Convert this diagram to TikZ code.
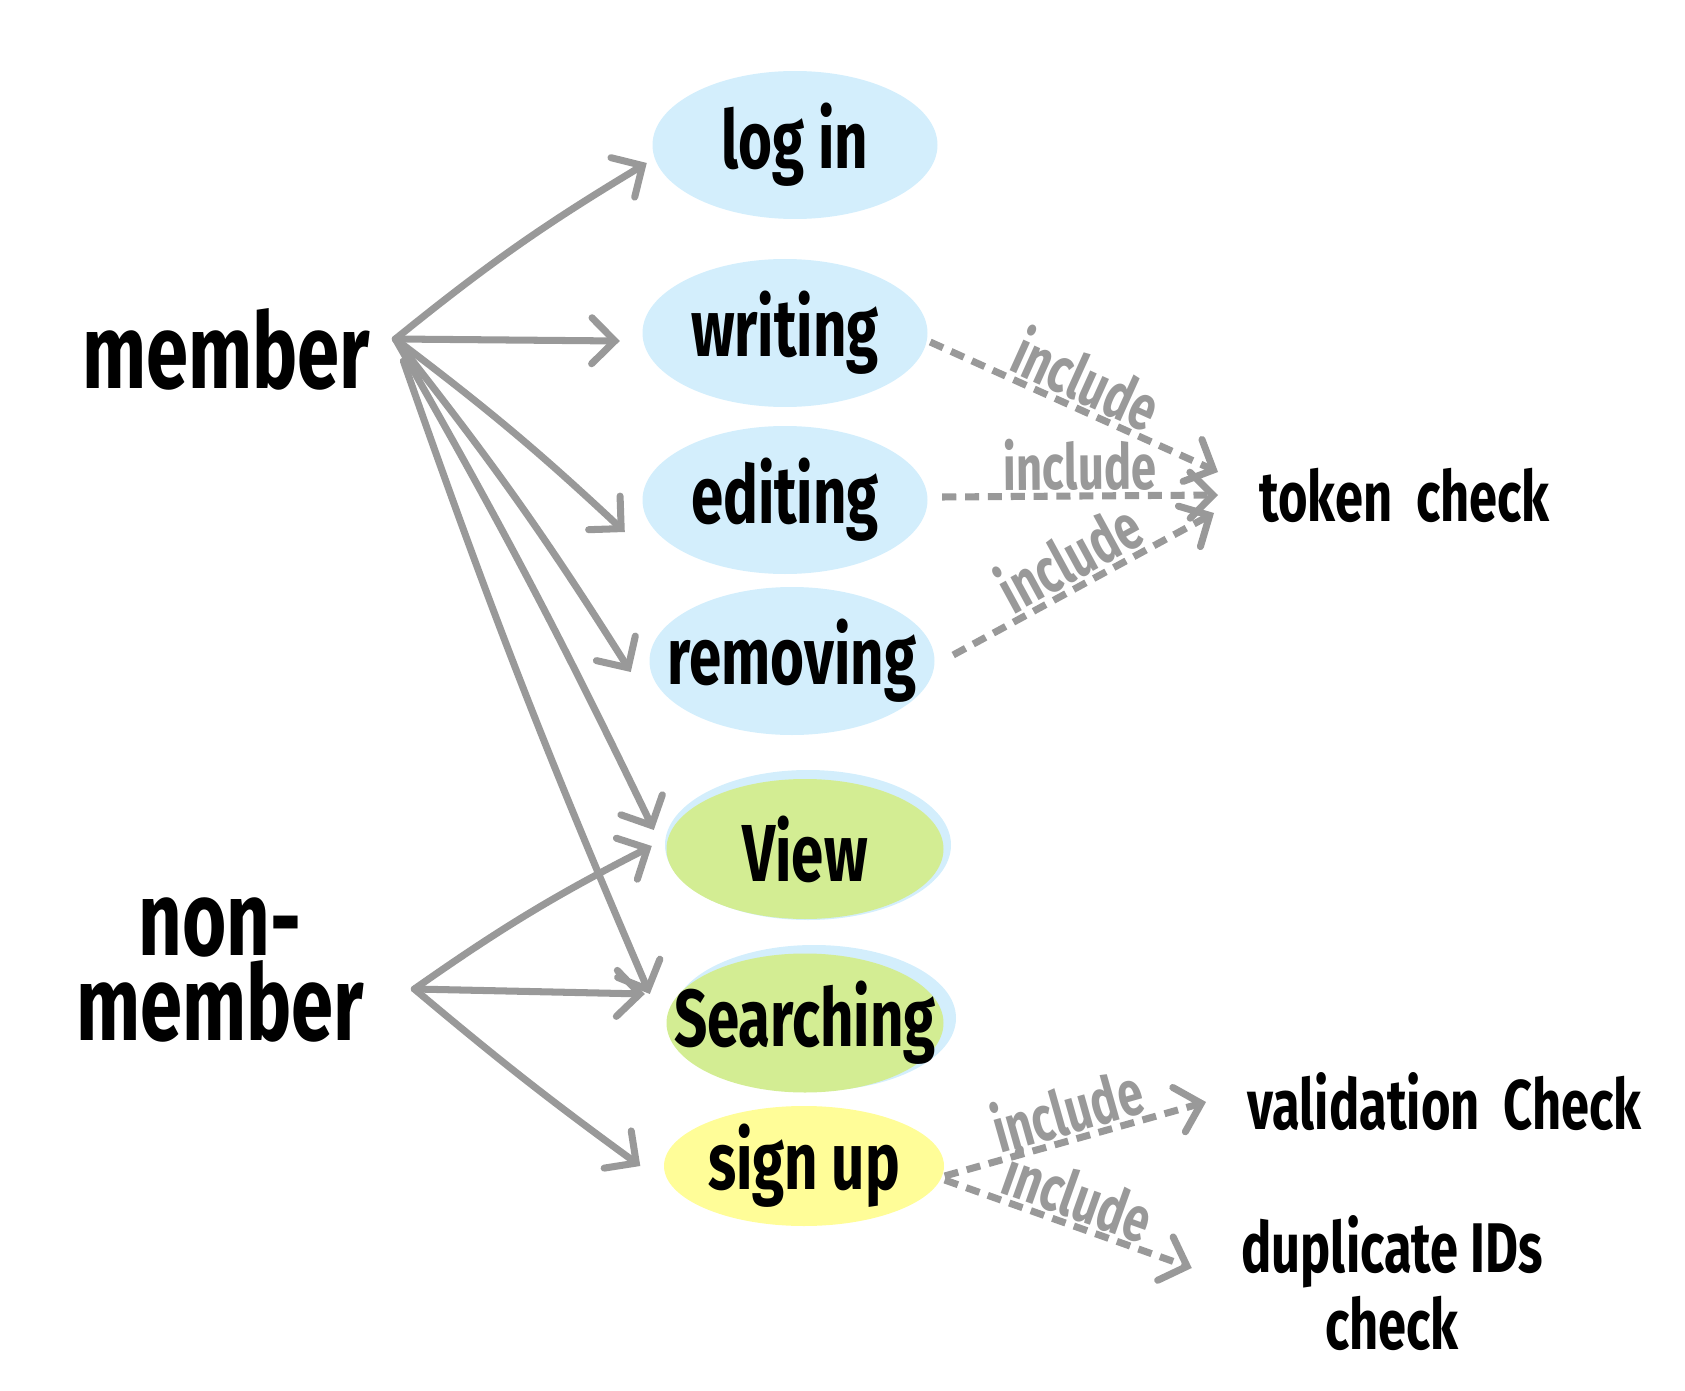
\documentclass[tikz,border=0pt]{standalone}
\usepackage{fontspec}
\setmainfont{Fira Sans}[FakeStretch=0.72]
\usetikzlibrary{shapes.geometric,arrows.meta}

\definecolor{caseblue}{HTML}{D3EEFC}
\definecolor{casegreen}{HTML}{D3ED93}
\definecolor{caseyellow}{HTML}{FFFD98}
\definecolor{linegray}{HTML}{999999}

\tikzset{
  usecase/.style={ellipse, minimum width=2.85cm, minimum height=1.48cm, inner sep=0pt, inner xsep=-5mm,
    font=\fontsize{23}{27}\selectfont\bfseries},
  actor/.style={font=\fontsize{30}{21}\selectfont\bfseries, align=center},
  result/.style={font=\fontsize{20}{22}\selectfont\bfseries, align=center, inner sep=0pt},
  assoc/.style={draw=linegray, line width=2pt, line cap=round, ->},
  incl/.style={assoc, line cap=butt, dash pattern=on 4pt off 2.5pt},
  incltext/.style={font=\fontsize{18}{20}\selectfont\bfseries, text=linegray, sloped, above, inner sep=0.5pt}
}

\begin{document}
\begin{tikzpicture}[>={Straight Barb[length=2.3mm,width=4.6mm,line cap=round]}]
\useasboundingbox (0,0) rectangle (16.85,13.9);

% blue shade peeking out behind the green cases
\fill [color=caseblue] (8.08,5.45) ellipse (1.43 and 0.75);
\fill [color=caseblue] (8.14,3.72) ellipse (1.42 and 0.73);

\node[usecase, fill=caseblue] (login) at (7.95,12.45) {log in};
\node[usecase, fill=caseblue] (writing) at (7.85,10.57) {writing};
\node[usecase, fill=caseblue] (editing) at (7.85,8.90) {editing};
\node[usecase, fill=caseblue] (removing) at (7.92,7.29) {removing};
\node[usecase, fill=casegreen, minimum width=2.77cm, minimum height=1.40cm] (view) at (8.05,5.41) {View};
\node[usecase, fill=casegreen, minimum width=2.77cm, minimum height=1.39cm] (searching) at (8.05,3.67) {Searching};
\node[usecase, fill=caseyellow, minimum width=2.8cm, minimum height=1.2cm] (signup) at (8.04,2.24) {sign up};

\node[actor] (member) at (2.26,10.41) {member};
\node[actor] (nonmember) at (2.2,4.2) {non-\\member};

\node[result, anchor=west] (token) at (12.59,8.95) {token\ \ check};
\node[result, anchor=west] (validation) at (12.47,2.88) {validation\ \ Check};
\node[result] (duplicate) at (13.92,1.07) {duplicate IDs\\check};

\coordinate (mout) at ([shift={(1.3mm,1mm)}]member.east);
\coordinate (nout) at ([shift={(3.8mm,-1.9mm)}]nonmember.east);

% member
\draw[assoc] (mout) to[bend left=4] ([shift={(-0.5mm,-1.8mm)}]login.west);
\draw[assoc] (mout) -- ([shift={(-2.2mm,-0.8mm)}]writing.west);
\draw[assoc] (mout) to[bend left=3] ([shift={(-1.7mm,-3.2mm)}]editing.west);
\draw[assoc] (mout) to[bend left=3] ([shift={(-1.8mm,-1.1mm)}]removing.west);
\draw[assoc] (mout) to[bend left=2] ([shift={(-1.2mm,1.9mm)}]view.west);
\draw[assoc] ([shift={(0.8mm,-2.2mm)}]mout) to[bend right=2] ([shift={(-1.6mm,2.9mm)}]searching.west);

% non-member
\draw[assoc] (nout) to[bend left=4] ([shift={(-1.4mm,0.3mm)}]view.west);
\draw[assoc] (nout) -- ([shift={(-2.1mm,2.9mm)}]searching.west);
\draw[assoc] (nout) to[bend right=2] ([shift={(-2.3mm,0mm)}]signup.west);

% include relations
\draw[incl] ([shift={(0.2mm,-0.9mm)}]writing.east) -- node[incltext]{include} ([shift={(-4.1mm,2.3mm)}]token.west);
\draw[incl] ([shift={(1.4mm,0.3mm)}]editing.east) -- node[incltext]{include} ([shift={(-4.1mm,0mm)}]token.west);
\draw[incl] ([shift={(1.8mm,0.6mm)}]removing.east) -- node[incltext]{include} ([shift={(-4.5mm,-1.8mm)}]token.west);
\draw[incl] ([yshift=-1mm]signup.east) -- node[incltext]{include} ([shift={(-4.1mm,0mm)}]validation.west);
\draw[incl] ([yshift=-1.4mm]signup.east) -- node[incltext]{include} ([shift={(-4.9mm,1.5mm)}]duplicate.west);

\end{tikzpicture}
\end{document}
